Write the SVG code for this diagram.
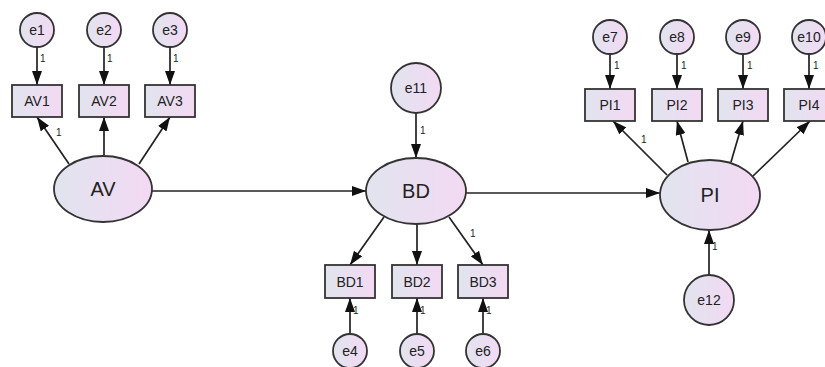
<svg xmlns="http://www.w3.org/2000/svg" width="825" height="367" viewBox="0 0 825 367">
<defs>
<linearGradient id="g" x1="0" y1="0" x2="1" y2="0">
<stop offset="0" stop-color="#e1e4ef"/>
<stop offset="1" stop-color="#f3d9f3"/>
</linearGradient>
<marker id="ah" viewBox="0 0 14 10" markerWidth="14" markerHeight="10" refX="14" refY="5" orient="auto" markerUnits="userSpaceOnUse">
<path d="M0,0 L14,5 L0,10 z" fill="#111"/>
</marker>
<style>
.n{fill:url(#g);stroke:#333;stroke-width:1.8}
.t{font-family:"Liberation Sans",Arial,sans-serif;fill:#222;text-anchor:middle;dominant-baseline:central}
.big{font-size:20px}
.mid{font-size:14px}
.one{font-family:"Liberation Sans",Arial,sans-serif;fill:#222;font-size:10px}
.c line{stroke:#222;stroke-width:1.7;marker-end:url(#ah)}
</style>
</defs>
<rect width="825" height="367" fill="#fff"/>
<g class="c" id="connectors">
<line x1="37" y1="47" x2="37" y2="85"/>
<line x1="104" y1="47" x2="104" y2="85"/>
<line x1="170" y1="47" x2="170" y2="85"/>
<line x1="69" y1="164" x2="37" y2="117"/>
<line x1="104" y1="155" x2="104" y2="117"/>
<line x1="139" y1="164" x2="170" y2="117"/>
<line x1="152" y1="191" x2="366" y2="191"/>
<line x1="416" y1="113" x2="416" y2="158"/>
<line x1="384" y1="217" x2="350" y2="265"/>
<line x1="417" y1="224" x2="417" y2="265"/>
<line x1="449" y1="217" x2="483" y2="265"/>
<line x1="350" y1="334" x2="350" y2="298"/>
<line x1="417" y1="334" x2="417" y2="298"/>
<line x1="483" y1="334" x2="483" y2="298"/>
<line x1="466" y1="193" x2="660" y2="193"/>
<line x1="610" y1="54" x2="610" y2="89"/>
<line x1="677" y1="54" x2="677" y2="89"/>
<line x1="743" y1="54" x2="743" y2="89"/>
<line x1="809" y1="54" x2="809" y2="89"/>
<line x1="667" y1="175" x2="613" y2="121"/>
<line x1="688" y1="162" x2="677" y2="121"/>
<line x1="731" y1="162" x2="743" y2="121"/>
<line x1="753" y1="176" x2="810" y2="121"/>
<line x1="709" y1="275" x2="709" y2="230"/>
</g>
<g id="labels1">
<text class="one" x="40" y="62">1</text>
<text class="one" x="107" y="62">1</text>
<text class="one" x="173" y="62">1</text>
<text class="one" x="56" y="136">1</text>
<text class="one" x="420" y="134">1</text>
<text class="one" x="470" y="237">1</text>
<text class="one" x="353" y="314">1</text>
<text class="one" x="420" y="314">1</text>
<text class="one" x="486" y="314">1</text>
<text class="one" x="614" y="69">1</text>
<text class="one" x="681" y="69">1</text>
<text class="one" x="747" y="69">1</text>
<text class="one" x="813" y="69">1</text>
<text class="one" x="641" y="143">1</text>
<text class="one" x="712" y="250">1</text>
</g>
<g id="e1"><circle class="n" cx="37" cy="30" r="17"/><text class="t mid" x="37" y="30">e1</text></g>
<g id="e2"><circle class="n" cx="104" cy="30" r="17"/><text class="t mid" x="104" y="30">e2</text></g>
<g id="e3"><circle class="n" cx="170" cy="30" r="17"/><text class="t mid" x="170" y="30">e3</text></g>
<g id="AV1"><rect class="n" x="12" y="85" width="50" height="32"/><text class="t mid" x="37" y="101">AV1</text></g>
<g id="AV2"><rect class="n" x="79" y="85" width="50" height="32"/><text class="t mid" x="104" y="101">AV2</text></g>
<g id="AV3"><rect class="n" x="145" y="85" width="50" height="32"/><text class="t mid" x="170" y="101">AV3</text></g>
<g id="AV"><ellipse class="n" cx="103" cy="189" rx="49" ry="33"/><text class="t big" x="103" y="189">AV</text></g>
<g id="e11"><circle class="n" cx="416" cy="88" r="25"/><text class="t mid" x="416" y="88">e11</text></g>
<g id="BD"><ellipse class="n" cx="416" cy="191" rx="50" ry="33"/><text class="t big" x="416" y="191">BD</text></g>
<g id="BD1"><rect class="n" x="325" y="265" width="50" height="33"/><text class="t mid" x="350" y="281.5">BD1</text></g>
<g id="BD2"><rect class="n" x="392" y="265" width="50" height="33"/><text class="t mid" x="417" y="281.5">BD2</text></g>
<g id="BD3"><rect class="n" x="458" y="265" width="50" height="33"/><text class="t mid" x="483" y="281.5">BD3</text></g>
<g id="e4"><circle class="n" cx="350" cy="351" r="17"/><text class="t mid" x="350" y="351">e4</text></g>
<g id="e5"><circle class="n" cx="417" cy="351" r="17"/><text class="t mid" x="417" y="351">e5</text></g>
<g id="e6"><circle class="n" cx="483" cy="351" r="17"/><text class="t mid" x="483" y="351">e6</text></g>
<g id="PI"><ellipse class="n" cx="710" cy="195" rx="50" ry="35"/><text class="t big" x="710" y="195">PI</text></g>
<g id="e12"><circle class="n" cx="709" cy="300" r="25"/><text class="t mid" x="709" y="300">e12</text></g>
<g id="e7"><circle class="n" cx="610" cy="37" r="17"/><text class="t mid" x="610" y="37">e7</text></g>
<g id="e8"><circle class="n" cx="677" cy="37" r="17"/><text class="t mid" x="677" y="37">e8</text></g>
<g id="e9"><circle class="n" cx="743" cy="37" r="17"/><text class="t mid" x="743" y="37">e9</text></g>
<g id="e10"><circle class="n" cx="809" cy="37" r="17"/><text class="t mid" x="809" y="37">e10</text></g>
<g id="PI1"><rect class="n" x="585" y="89" width="50" height="32"/><text class="t mid" x="610" y="105">PI1</text></g>
<g id="PI2"><rect class="n" x="652" y="89" width="50" height="32"/><text class="t mid" x="677" y="105">PI2</text></g>
<g id="PI3"><rect class="n" x="718" y="89" width="50" height="32"/><text class="t mid" x="743" y="105">PI3</text></g>
<g id="PI4"><rect class="n" x="784" y="89" width="50" height="32"/><text class="t mid" x="809" y="105">PI4</text></g>
</svg>
